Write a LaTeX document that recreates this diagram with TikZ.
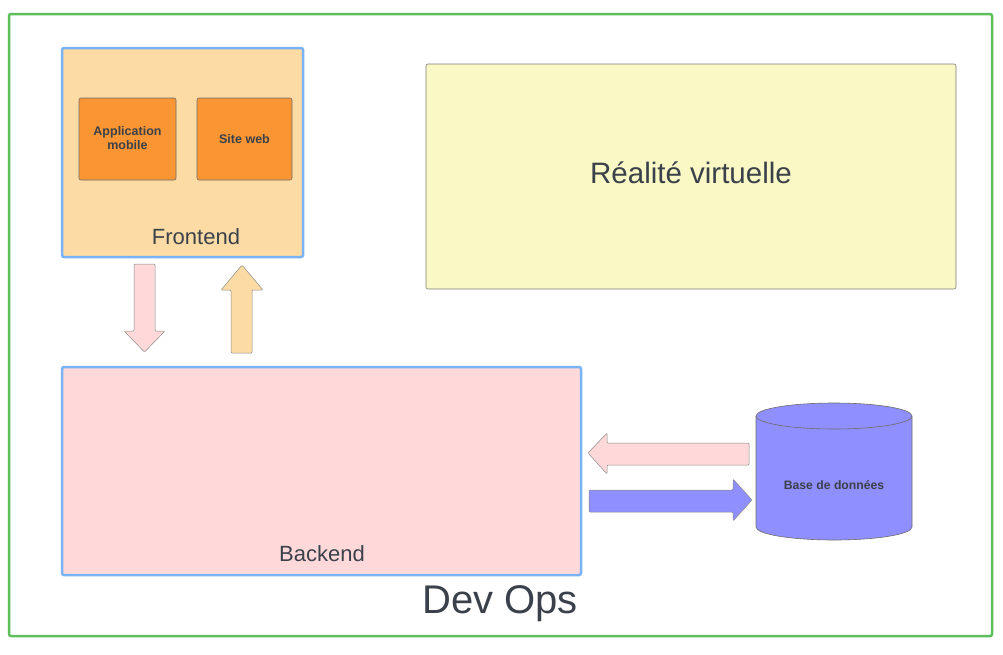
\documentclass[tikz,border=0pt]{standalone}
\usepackage{fontspec}
\setmainfont{Liberation Sans}
\definecolor{txt}{HTML}{3A414A}
\definecolor{grn}{HTML}{5CBF5C}
\definecolor{blu}{HTML}{7AB3F5}
\definecolor{feFill}{HTML}{FDDBA5}
\definecolor{orFill}{HTML}{F99532}
\definecolor{vrFill}{HTML}{FAF8C4}
\definecolor{pk}{HTML}{FFD9D9}
\definecolor{pu}{HTML}{8F8FFF}
\definecolor{edge}{HTML}{6E6E6E}
\begin{document}
\begin{tikzpicture}[x=1pt,y=-1pt,
  container/.style={draw=blu,line width=2.5pt,rounded corners=2pt},
  subbox/.style={draw=edge,line width=0.6pt,fill=orFill,rounded corners=2pt},
  blockarrow/.style={draw=edge!80,line width=0.5pt,rounded corners=1pt},
  lbl/.style={text=txt,inner sep=0pt}]
\useasboundingbox (0,0) rectangle (1003,654);
\fill[white] (0,0) rectangle (1003,654);
% outer
\draw[grn,line width=2.5pt,rounded corners=2pt] (9,14) rectangle (992,636);
\node[lbl,font=\fontsize{40}{40}\selectfont] (devops) at (500,604) {Dev Ops};
% frontend
\draw[container,fill=feFill] (62,48) rectangle (303,257);
\node[lbl,font=\fontsize{22}{22}\selectfont] (fe) at (196,237) {Frontend};
\draw[subbox] (79,98) rectangle (176,180);
\node[lbl,font=\fontsize{12.5}{14}\selectfont\bfseries,align=center] (app) at (127.5,138) {Application\\mobile};
\draw[subbox] (197,98) rectangle (292,180);
\node[lbl,font=\fontsize{12.5}{14}\selectfont\bfseries] (web) at (244.5,139) {Site web};
% VR
\draw[draw=edge!90,line width=0.6pt,fill=vrFill,rounded corners=2pt] (426,64) rectangle (956,289);
\node[lbl,font=\fontsize{29.5}{30}\selectfont] (vr) at (691,173) {Réalité virtuelle};
% backend
\draw[container,fill=pk] (62,367) rectangle (581,575);
\node[lbl,font=\fontsize{22}{22}\selectfont] (be) at (322,554) {Backend};
% vertical arrows
\draw[blockarrow,fill=pk] (134,264) -- (155,264) -- (155,331) -- (165,331) -- (144.5,352) -- (124,331) -- (134,331) -- cycle;
\draw[blockarrow,fill=feFill] (231,353) -- (252,353) -- (252,290) -- (263,290) -- (242,265) -- (221,290) -- (231,290) -- cycle;
% horizontal arrows
\draw[blockarrow,fill=pk] (749,443) -- (749,465) -- (607,465) -- (607,474) -- (588,453) -- (607,433) -- (607,443) -- cycle;
\draw[blockarrow,fill=pu] (589,490) -- (733,490) -- (733,479) -- (752,500) -- (733,521) -- (733,512) -- (589,512) -- cycle;
% database cylinder
\draw[draw=edge,line width=0.6pt,fill=pu] (756,416) -- (756,527) arc[start angle=180,end angle=0,x radius=78,y radius=13] -- (912,416) arc[start angle=0,end angle=-180,x radius=78,y radius=13] -- cycle;
\draw[draw=edge,line width=0.6pt] (756,416) arc[start angle=180,end angle=0,x radius=78,y radius=13];
\node[lbl,font=\fontsize{12.2}{14}\selectfont\bfseries] (db) at (834,485) {Base de données};
\end{tikzpicture}
\end{document}
